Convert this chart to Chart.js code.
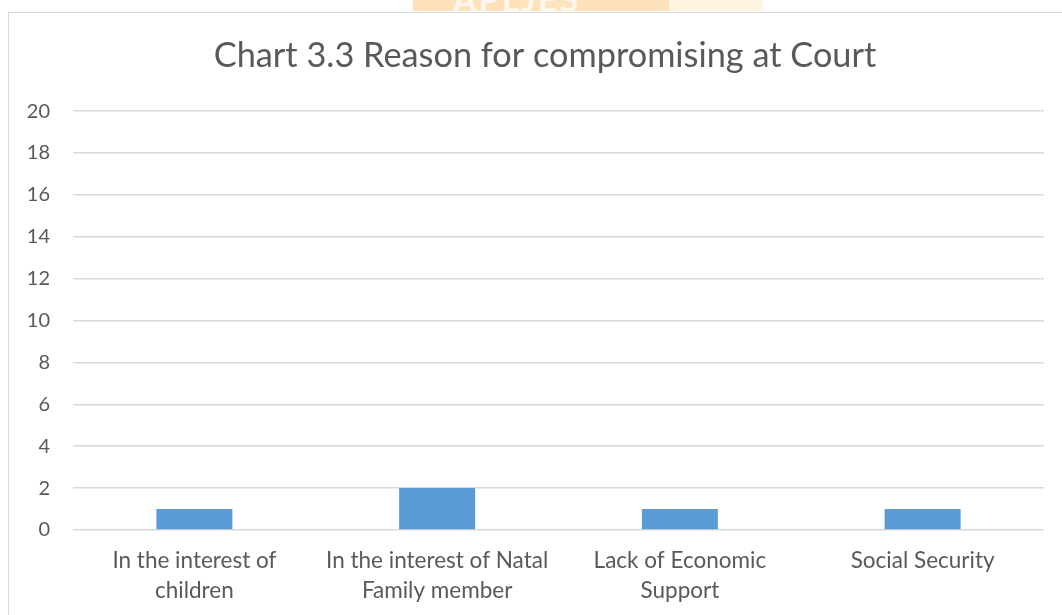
<!DOCTYPE html>
<html>
<head>
<meta charset="utf-8">
<script src="https://cdn.jsdelivr.net/npm/chart.js@4"></script>
<style>
  html, body { margin: 0; padding: 0; background: #fff; width: 1062px; height: 615px; overflow: hidden; }
  #mark { position: absolute; left: 413px; top: 0; width: 350px; height: 11px; overflow: hidden;
          background: linear-gradient(90deg, #fde2bb 0, #fde2bb 73%, #fff3e2 73%, #fff3e2 100%); }
  #mark span { position: absolute; left: 40px; top: -22px; font: bold 34px Lato, sans-serif; color: #fff7ec; letter-spacing: 2px; }
  #box { position: absolute; left: 8px; top: 12px; width: 1080px; height: 620px; border: 1px solid #d9d9d9; box-sizing: border-box; }
  #wrap { position: absolute; left: 9px; top: 13px; width: 1072px; height: 602px; }
</style>
</head>
<body>
<div id="mark"><span>APLJES</span></div>
<div id="box"></div>
<div id="wrap"><canvas id="myChart"></canvas></div>
<script>
// chart 3.3 - reasons given for compromising at court
var categories = [
  ["In the interest of", "children"],
  ["In the interest of Natal", "Family member"],
  ["Lack of Economic", "Support"],
  ["Social Security"]
];
var counts = [1, 2, 1, 1];
var yTicks = [0, 2, 4, 6, 8, 10, 12, 14, 16, 18, 20];

var textColor = "#595959";
var ctx = document.getElementById("myChart").getContext('2d');
var myChart = new Chart(ctx, {
  type: 'bar',
  data: {
    labels: categories,
    datasets: [{
      label: 'Count',
      backgroundColor: "#5b9bd5",
      data: counts,
      categoryPercentage: 1,
      barPercentage: 0.313
    }]
  },
  options: {
    responsive: true,
    maintainAspectRatio: false,
    animation: false,
    layout: { padding: 0 },
    plugins: {
      legend: { display: false },
      tooltip: { enabled: false },
      title: {
        display: true,
        text: 'Chart 3.3 Reason for compromising at Court',
        color: textColor,
        font: { family: 'Lato', size: 34.3, weight: 'normal' },
        lineHeight: 1.2,
        padding: { top: 22, bottom: 35 }
      }
    },
    scales: {
      x: {
        grid: { display: false, drawTicks: false },
        border: { display: false },
        ticks: {
          color: textColor,
          font: { family: 'Lato', size: 22.5, lineHeight: 1.33 },
          padding: 16,
          maxRotation: 0,
          autoSkip: false
        },
        afterFit: function (scale) { scale.height = 85; }
      },
      y: {
        min: 0,
        max: 20,
        afterBuildTicks: function (scale) {
          scale.ticks = yTicks.map(function (v) { return { value: v }; });
        },
        grid: { color: "#d9d9d9", lineWidth: 1.5, drawTicks: false },
        border: { display: false },
        ticks: {
          color: textColor,
          font: { family: 'Lato', size: 20 },
          padding: 23
        },
        afterFit: function (scale) { scale.width = 64; }
      },
      // empty right axis only keeps the plot off the (cropped) right edge
      yRight: {
        position: 'right',
        min: 0,
        max: 20,
        grid: { display: false, drawTicks: false },
        border: { display: false },
        ticks: { display: false },
        afterFit: function (scale) { scale.width = 37; }
      }
    }
  }
});
</script>
</body>
</html>
